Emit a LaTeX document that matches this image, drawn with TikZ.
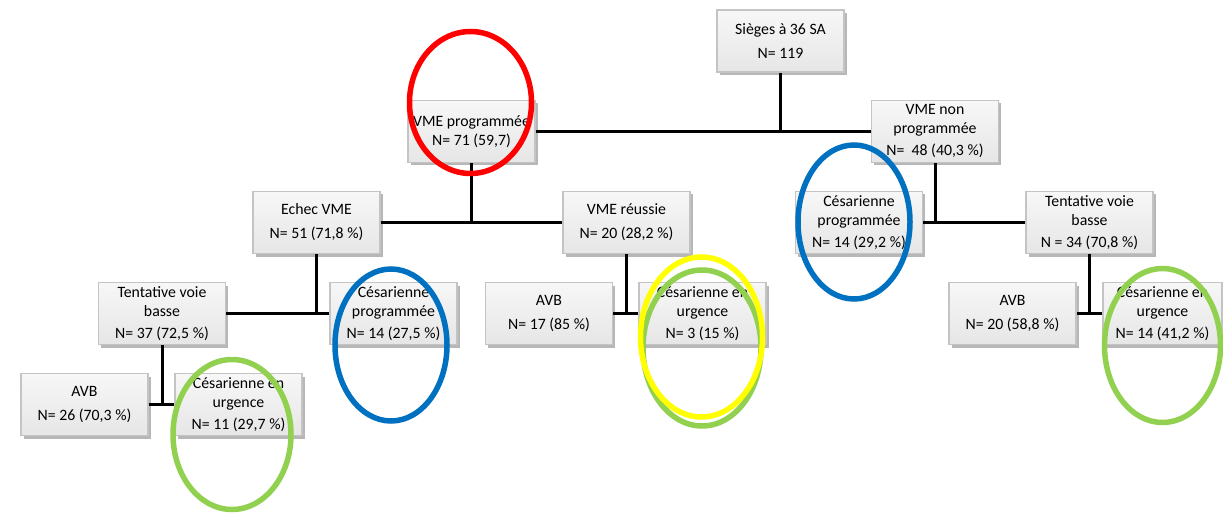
\documentclass[tikz,border=0pt]{standalone}
\usepackage{fontspec}
\setmainfont{Carlito}
\usetikzlibrary{shadows,shadings}
\definecolor{boxedge}{HTML}{C4C4C4}
\definecolor{boxtop}{HTML}{F7F7F7}
\definecolor{boxbot}{HTML}{E6E6E6}
\definecolor{ovred}{HTML}{FF0000}
\definecolor{ovblue}{HTML}{0070C0}
\definecolor{ovgreen}{HTML}{92D050}
\definecolor{ovyellow}{HTML}{FFFF00}
\tikzset{
  box/.style={draw=boxedge, line width=1.2pt, top color=boxtop, bottom color=boxbot,
    minimum width=127pt, minimum height=62pt, inner sep=1pt, align=center,
    font=\fontsize{15.8}{19}\selectfont,
    drop shadow={shadow xshift=2.5pt, shadow yshift=-3pt, opacity=0.4, fill=black!70}},
  link/.style={line width=3pt, black},
  ov/.style={line width=5.5pt}
}
\begin{document}
\begin{tikzpicture}[x=1pt,y=-1pt]
\useasboundingbox (0,0) rectangle (1223,513);
% boxes
\node[box] (root) at (780.5,41) {Sièges à 36 SA\\[5pt]N= 119};
\node[box] (vp) at (471.5,131.5) {VME programmée\\N= 71 (59,7)};
\node[box] (vnp) at (935,131.5) {VME non\\programmée\\[3pt]N=\ \ 48 (40,3 \%)};
\node[box] (echec) at (316.5,222.5) {Echec VME\\[5pt]N= 51 (71,8 \%)};
\node[box] (reussie) at (626.5,222.5) {VME réussie\\[5pt]N= 20 (28,2 \%)};
\node[box] (cpR) at (859,222.5) {Césarienne\\programmée\\[3pt]N= 14 (29,2 \%)};
\node[box] (tvbR) at (1089.5,222.5) {Tentative voie\\basse\\[3pt]N = 34 (70,8 \%)};
\node[box] (tvbL) at (162,313.5) {Tentative voie\\basse\\[3pt]N= 37 (72,5 \%)};
\node[box] (cpL) at (393.5,313.5) {Césarienne\\programmée\\[3pt]N= 14 (27,5 \%)};
\node[box] (avbM) at (549,313.5) {AVB\\[5pt]N= 17 (85 \%)};
\node[box] (cuM) at (702.5,313.5) {Césarienne en\\urgence\\[3pt]N= 3 (15 \%)};
\node[box] (avbR) at (1012.5,313.5) {AVB\\[5pt]N= 20 (58,8 \%)};
\node[box, minimum width=119pt] (cuR) at (1162.5,313.5) {Césarienne en\\urgence\\[3pt]N= 14 (41,2 \%)};
\node[box] (avbL) at (84.5,404.5) {AVB\\[5pt]N= 26 (70,3 \%)};
\node[box] (cuL) at (238.5,404.5) {Césarienne en\\urgence\\[3pt]N= 11 (29,7 \%)};
% connectors
\draw[link] (root.south) -- (root.south |- vp.east);
\draw[link] (vp.east) -- (vnp.west);
\draw[link] (vp.south) -- (vp.south |- echec.east);
\draw[link] (echec.east) -- (reussie.west);
\draw[link] (vnp.south) -- (vnp.south |- cpR.east);
\draw[link] (cpR.east) -- (tvbR.west);
\draw[link] (echec.south) -- (echec.south |- tvbL.east);
\draw[link] (tvbL.east) -- (cpL.west);
\draw[link] (reussie.south) -- (reussie.south |- avbM.east);
\draw[link] (avbM.east) -- (cuM.west);
\draw[link] (tvbR.south) -- (tvbR.south |- avbR.east);
\draw[link] (avbR.east) -- (cuR.west);
\draw[link] (tvbL.south) -- (tvbL.south |- avbL.east);
\draw[link] (avbL.east) -- (cuL.west);
% ovals
\draw[ov, ovred] (470.5,102.5) ellipse [x radius=61, y radius=71];
\draw[ov, ovblue] (854,222) ellipse [x radius=56, y radius=77];
\draw[ov, ovblue] (391,345) ellipse [x radius=56, y radius=76];
\draw[ov, ovgreen] (232,434.5) ellipse [x radius=59, y radius=75];
\draw[ov, ovgreen] (1162.5,345.5) ellipse [x radius=58, y radius=77];
\draw[ov, ovgreen] (702,348) ellipse [x radius=59, y radius=78];
\draw[ov, ovyellow] (701.5,337) ellipse [x radius=61, y radius=80];
\end{tikzpicture}
\end{document}
